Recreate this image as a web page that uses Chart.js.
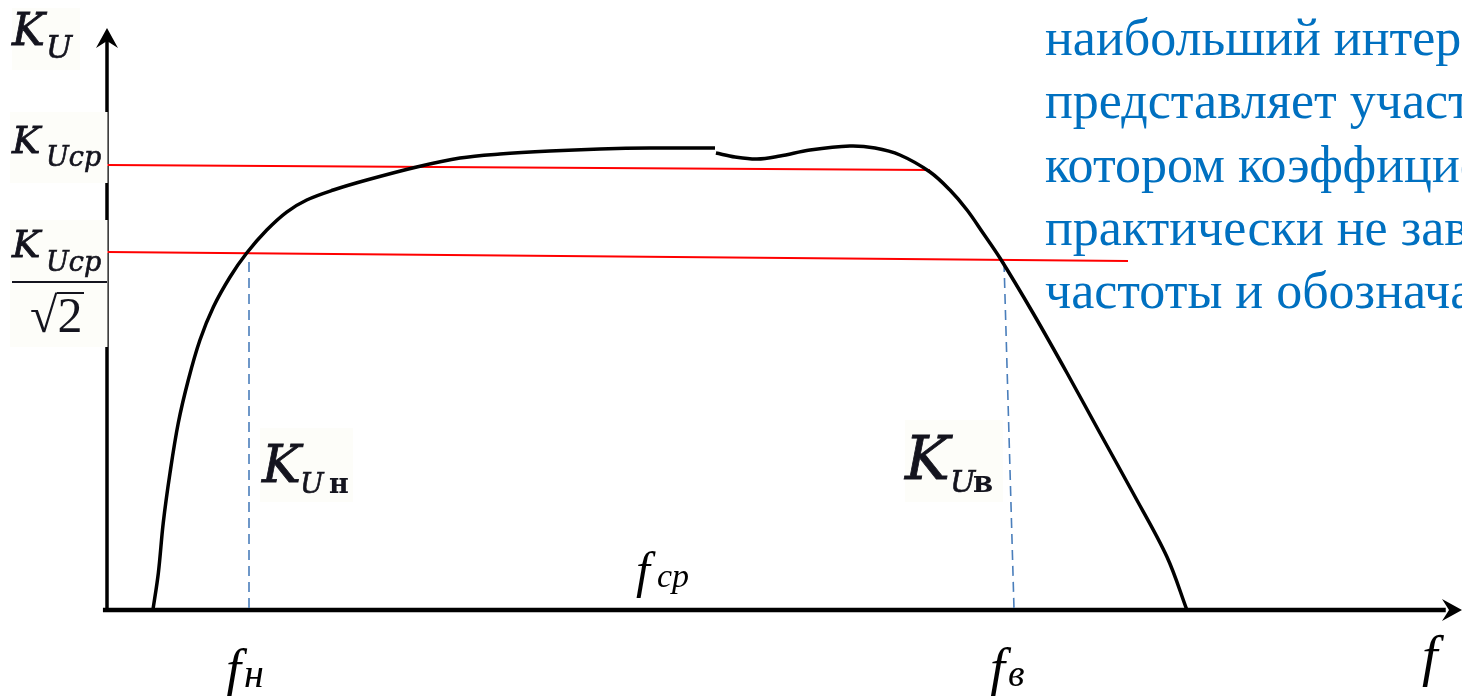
<!DOCTYPE html>
<html><head><meta charset="utf-8">
<script src="https://cdn.jsdelivr.net/npm/chart.js@4/dist/chart.umd.min.js"></script>
<style>html,body{margin:0;padding:0;background:#fff;overflow:hidden}#wrap{width:1462px;height:696px;position:relative}</style>
</head><body><div id="wrap"><canvas id="c"></canvas></div>
<script>
// Frequency response (arbitrary units: f 0..100, K 0..100)
const lowBandF  = [3.39, 3.79, 4.15, 4.65, 5.26, 6.00, 6.86, 7.85, 9.08, 10.31, 11.79, 13.26, 14.74, 16.70, 19.17, 22.86, 26.05, 29.00, 32.69, 36.38, 40.07, 44.87];
const lowBandK  = [0, 6.36, 14.95, 23.54, 32.13, 39.52, 46.39, 52.06, 57.22, 61.34, 65.29, 68.38, 70.45, 72.16, 73.88, 76.12, 77.66, 78.35, 78.87, 79.21, 79.38, 79.38];
const highBandF = [44.94, 46.35, 47.97, 49.67, 51.88, 54.83, 56.68, 58.52, 60.74, 62.21, 63.47, 64.65, 65.90, 68.34, 70.85, 73.28, 75.72, 78.23, 79.70];
const highBandK = [78.52, 77.84, 77.49, 78.01, 79.04, 79.73, 79.38, 78.18, 75.26, 72.16, 68.73, 64.78, 60.48, 51.03, 40.72, 30.41, 20.10, 9.11, 0];
// K_Ucp level line and K_Ucp/√2 level line
const kcpF  = [0, 60.74];
const kcpK  = [76.46, 75.60];
const kcp2F = [0, 75.35];
const kcp2K = [61.51, 59.97];
// cut-off frequency markers
const fLowF  = [10.48, 10.48];
const fLowK  = [59.79, 0];
const fHighF = [66.20, 66.94];
const fHighK = [59.79, 0];
// axes
const yAxisF = [0, 0];
const yAxisK = [0, 98];
const xAxisF = [-0.3, 98.8];
const xAxisK = [0, 0];
const arrowTips = {y:[0,100], x:[100,0]};
const blueText = ["наибольший интерес","представляет участок,","котором коэффициент","практически не зависит","частоты и обозначается"];

const pts = (xs, ys) => xs.map((x,i)=>({x, y:ys[i]}));
const line = (xs, ys, color, w, extra) => Object.assign({data:pts(xs,ys), borderColor:color, borderWidth:w, pointRadius:0, showLine:true, fill:false, clip:false, tension:0}, extra||{});

const overlay = {
  id:'overlay',
  afterDatasetsDraw(chart){
    const ctx = chart.ctx, xs = chart.scales.x, ys = chart.scales.y;
    ctx.save();
    // arrowheads
    ctx.fillStyle = '#000';
    let tx = xs.getPixelForValue(arrowTips.y[0]), ty = ys.getPixelForValue(arrowTips.y[1]);
    ctx.beginPath(); ctx.moveTo(tx, ty); ctx.lineTo(tx+11, ty+20); ctx.lineTo(tx, ty+13); ctx.lineTo(tx-11, ty+20); ctx.closePath(); ctx.fill();
    tx = xs.getPixelForValue(arrowTips.x[0]); ty = ys.getPixelForValue(arrowTips.x[1]);
    ctx.beginPath(); ctx.moveTo(tx, ty); ctx.lineTo(tx-20, ty-11); ctx.lineTo(tx-13, ty); ctx.lineTo(tx-20, ty+11); ctx.closePath(); ctx.fill();
    // label patches
    ctx.fillStyle = '#fdfdf9';
    ctx.fillRect(12, 8, 68, 62);
    ctx.fillRect(10, 112, 97.5, 71);
    ctx.fillRect(10, 220, 97.5, 127);
    ctx.fillRect(260, 428, 93, 74);
    ctx.fillRect(905, 420, 98, 82);
    ctx.fillStyle = '#14141e';
    ctx.strokeStyle = '#14141e';
    ctx.textBaseline = 'alphabetic';
    const t = (s, f, x, y, sw) => { ctx.font = f; ctx.fillText(s, x, y); if (sw) { ctx.lineWidth = sw; ctx.strokeText(s, x, y); } };
    // K_U
    t('K', 'italic 44px "DejaVu Serif"', 12, 45, 0.8);
    t('U', 'italic 31px "DejaVu Serif"', 46, 58, 0.6);
    // K_Ucp
    t('K', 'italic 38px "DejaVu Serif"', 12, 153, 0.8);
    t('Uср', 'italic 27px "DejaVu Serif"', 46, 166, 0.6);
    // K_Ucp / √2
    t('K', 'italic 38px "DejaVu Serif"', 12, 257, 0.8);
    t('Uср', 'italic 27px "DejaVu Serif"', 46, 271, 0.6);
    ctx.fillRect(12, 281, 95, 2);
    t('√2', '50px "Liberation Serif"', 30, 332);
    ctx.fillRect(57, 292, 27, 2);
    // K_Uн
    t('K', 'italic 52px "DejaVu Serif"', 262, 482, 0.8);
    t('U', 'italic 28px "DejaVu Serif"', 300, 493, 0.6);
    t('н', 'bold 27px "DejaVu Serif"', 329, 493);
    // K_Uв
    t('K', 'italic 60px "DejaVu Serif"', 905, 479, 0.8);
    t('U', 'italic 30px "DejaVu Serif"', 950, 492, 0.6);
    t('в', 'bold 29px "DejaVu Serif"', 973, 492);
    // f labels
    ctx.fillStyle = '#000';
    t('f', 'italic 54px "Liberation Serif"', 226, 687);
    t('н', 'italic 40px "Liberation Serif"', 244, 687);
    t('f', 'italic 54px "Liberation Serif"', 990, 686);
    t('в', 'italic 38px "Liberation Serif"', 1008, 686);
    t('f', 'italic 50px "Liberation Serif"', 636, 587);
    t('ср', 'italic 34px "Liberation Serif"', 657, 587);
    t('f', 'italic 56px "Liberation Serif"', 1422, 675);
    // blue text
    ctx.fillStyle = '#0070c0';
    ctx.font = '52px "Liberation Serif"';
    blueText.forEach((s,i)=>ctx.fillText(s, 1045, 55 + i*63.3));
    ctx.restore();
  }
};

new Chart(document.getElementById('c'), {
  type:'scatter',
  data:{datasets:[
    line(lowBandF, lowBandK, '#000', 3.5, {tension:0.35}),
    line(highBandF, highBandK, '#000', 3.5, {tension:0.35}),
    line(kcpF, kcpK, '#ff0000', 2),
    line(kcp2F, kcp2K, '#ff0000', 2),
    line(fLowF, fLowK, '#4a7ebb', 1.6, {borderDash:[10,6]}),
    line(fHighF, fHighK, '#4a7ebb', 1.6, {borderDash:[10,6]}),
    line(yAxisF, yAxisK, '#000', 3.5),
    line(xAxisF, xAxisK, '#000', 4.5)
  ]},
  options:{
    responsive:true, maintainAspectRatio:false, animation:false, events:[],
    layout:{padding:{left:107, right:0, top:28, bottom:86}},
    plugins:{legend:{display:false}, tooltip:{enabled:false}},
    scales:{
      x:{type:'linear', min:0, max:100, display:false},
      y:{type:'linear', min:0, max:100, display:false}
    }
  },
  plugins:[overlay]
});
</script></body></html>
